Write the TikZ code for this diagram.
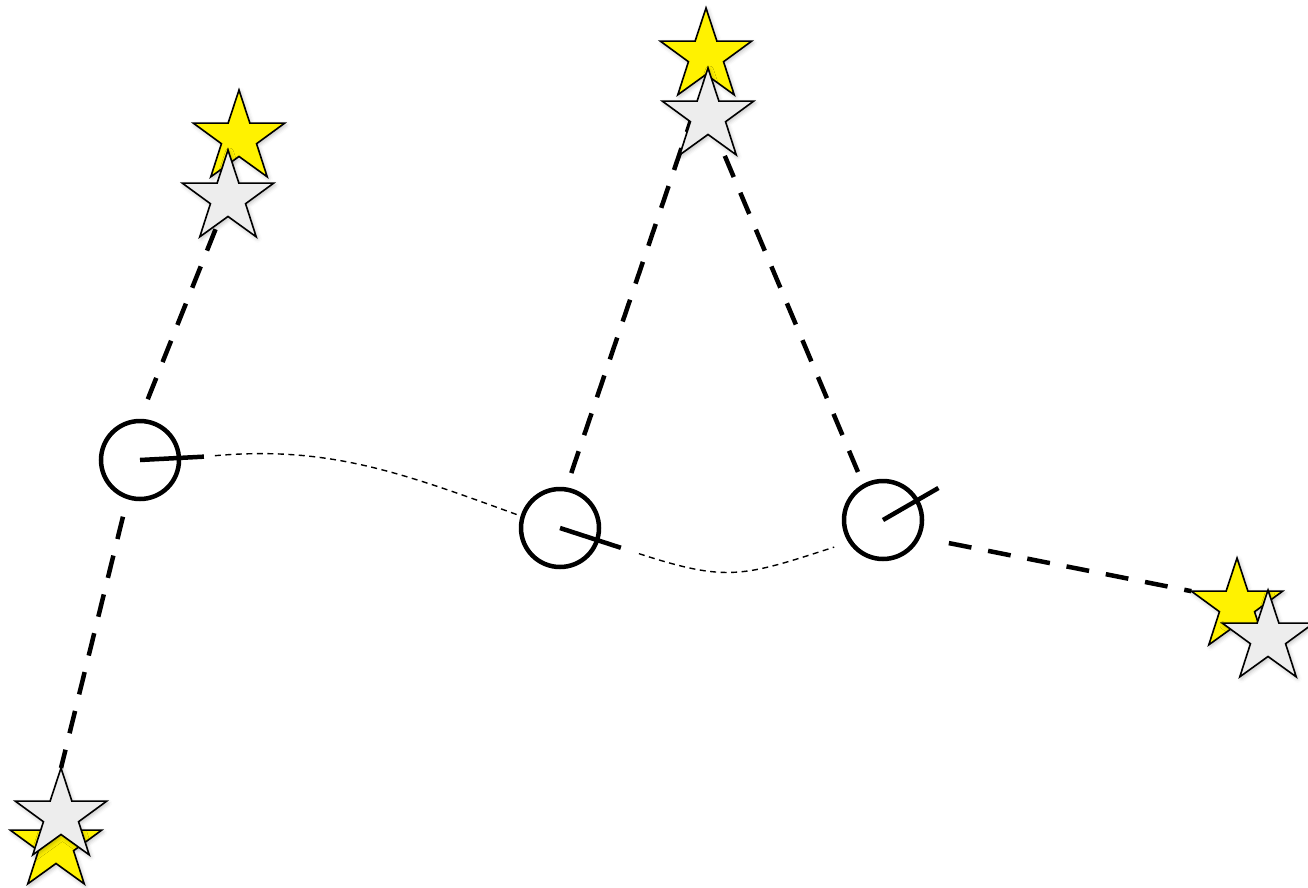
\documentclass[tikz,border=0pt]{standalone}
\usepackage{xcolor}
\usepackage{tikz}
\usetikzlibrary{positioning,shapes.geometric,calc,backgrounds,shadows.blur}

\begin{document}
\begin{tikzpicture}[
  x=1pt, y=-1pt,
  pose/.style={draw, circle, line width=4.5pt, minimum size=78pt, inner sep=0pt},
  heading/.style={line width=4.5pt},
  truemark/.style={star, star points=5, star point ratio=2.6, draw, line width=1.6pt,
               fill=yellow, minimum size=96pt, inner sep=0pt, outer sep=0pt,
               blur shadow={shadow xshift=1.5pt, shadow yshift=-2pt,
                            shadow blur radius=4pt, shadow opacity=25}},
  estmark/.style={truemark, fill=black!7},
  obs/.style={line width=4.5pt, dash pattern=on 23pt off 17pt},
  traj/.style={line width=1.4pt, dash pattern=on 6pt off 4.5pt},
]
\useasboundingbox (0,0) rectangle (1308,888);

% robot poses
\node[pose] (p1) at (140,460) {};
\node[pose] (p2) at (560,528) {};
\node[pose] (p3) at (883,520) {};
\coordinate (h1) at ($(p1)+(3:64pt)$);
\coordinate (h2) at ($(p2)+(-18:64pt)$);
\coordinate (h3) at ($(p3)+(30:64pt)$);
\draw[heading] (p1.center) -- (h1);
\draw[heading] (p2.center) -- (h2);
\draw[heading] (p3.center) -- (h3);

% landmarks: true, then estimated
\node[truemark] (l1t) at (239,138) {};
\node[truemark] (l2t) at (706,56) {};
\node[truemark] (l3t) at (1237,606) {};
\node[truemark] (l4t) at (56,845) {};
\node[estmark] (l1e) at (228,198) {};
\node[estmark] (l2e) at (708,116) {};
\node[estmark] (l3e) at (1268,638) {};
\node[estmark] (l4e) at (61,816) {};

\begin{scope}[on background layer]
\draw[traj, shorten <=11pt] (h1) to[out=5, in=160] (p2.163);
\draw[traj, shorten <=19pt, shorten >=15pt] (h2) to[out=-18, in=198, looseness=1.25] (p3.213);
\draw[obs, shorten <=21pt] (p1.90) -- (l1e.center);
\draw[obs, shorten <=18pt] (p1.252) -- (l4e.outer point 1);
\draw[obs, shorten <=15pt] (p2.81) -- (l2e.inner point 2);
\draw[obs, shorten <=13pt] (p3.119) -- (l2e.center);
\draw[obs, shorten <=29pt] (p3.-25) -- (l3t.outer point 2);
\end{scope}
\end{tikzpicture}
\end{document}
